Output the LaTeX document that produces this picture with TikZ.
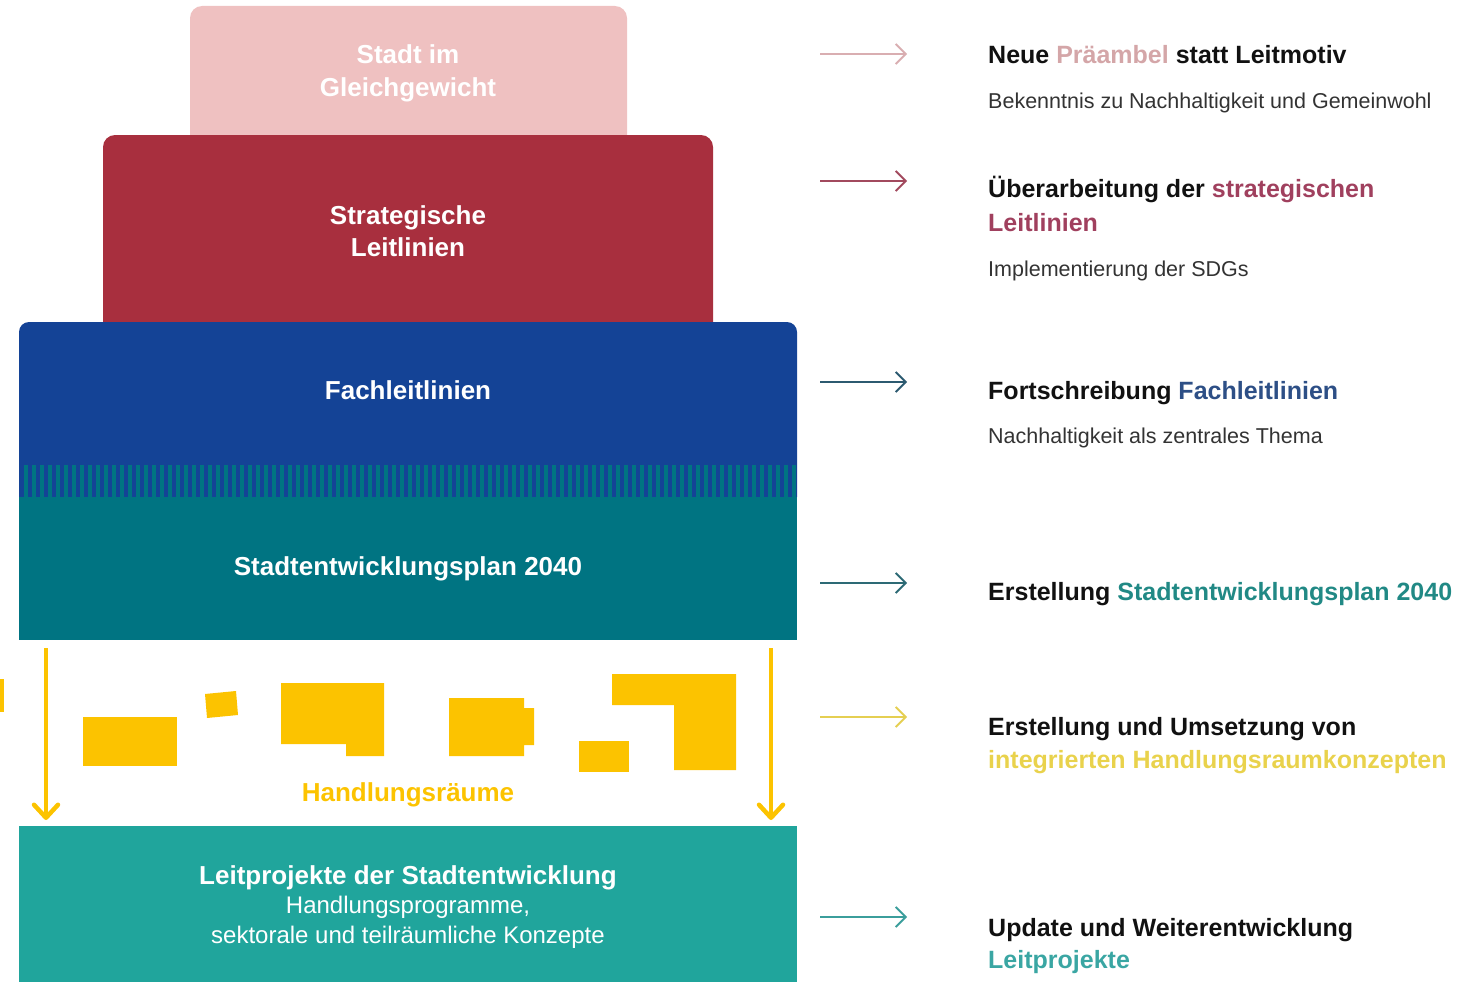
\documentclass[tikz,border=0pt]{standalone}
\usepackage{fontspec}
\setmainfont{Liberation Sans}
\usetikzlibrary{arrows.meta}
\definecolor{pinkbox}{HTML}{EFC1C1}
\definecolor{redbox}{HTML}{A82F3E}
\definecolor{bluebox}{HTML}{144396}
\definecolor{tealdark}{HTML}{007482}
\definecolor{yel}{HTML}{FCC300}
\definecolor{teallight}{HTML}{20A59C}
\definecolor{hpink}{HTML}{D4A6A8}
\definecolor{hred}{HTML}{A0405E}
\definecolor{hblue}{HTML}{2D4F86}
\definecolor{hteal}{HTML}{218985}
\definecolor{hyel}{HTML}{E9D24C}
\definecolor{hteal2}{HTML}{3AA6A3}
\definecolor{apink}{HTML}{D9AEB1}
\definecolor{ared}{HTML}{A24A5E}
\definecolor{ablue}{HTML}{2C5A70}
\definecolor{ateal}{HTML}{2D6A75}
\definecolor{ayel}{HTML}{E5CF52}
\definecolor{ateal2}{HTML}{3B9E9C}
\definecolor{headk}{HTML}{111111}
\definecolor{subk}{HTML}{333333}
\begin{document}
\begin{tikzpicture}[x=1pt,y=-1pt,
  boxlabel/.style={text=white, font=\bfseries\fontsize{26}{30}\selectfont, anchor=base, inner sep=0pt},
  boxsmall/.style={text=white, font=\fontsize{24}{28}\selectfont, anchor=base, inner sep=0pt},
  headline/.style={text=headk, font=\bfseries\fontsize{25}{30}\selectfont, anchor=base west, inner sep=0pt},
  subline/.style={text=subk, font=\fontsize{21.5}{26}\selectfont, anchor=base west, inner sep=0pt},
  rarrow/.style={line width=1.8pt, -{Straight Barb[length=10pt,width=20pt]}},
  yarrow/.style={yel, line width=4.5pt, -{Straight Barb[round,length=13pt,width=24pt]}},
  yshape/.style={fill=yel}
]
\useasboundingbox (0,0) rectangle (1465,982);

% --- stacked boxes ---
\fill[pinkbox, rounded corners=12pt] (190,6) rectangle (627,160);
\fill[redbox, rounded corners=12pt] (103,135) rectangle (713,345);
\fill[bluebox] (19,497) [rounded corners=10pt] -- (19,322) -- (797,322) [sharp corners] -- (797,497) -- cycle;
\foreach \i in {0,...,96} {
  \fill[tealdark] ({24+8*\i},465) rectangle ({28+8*\i},497);
}
\fill[tealdark] (19,497) rectangle (797,640);
\fill[teallight] (19,826) rectangle (797,982);

% --- box labels ---
\node[boxlabel] (pink1) at (408,64) {Stadt im};
\node[boxlabel] (pink2) at (408,96) {Gleichgewicht};
\node[boxlabel] (red1) at (408,224) {Strategische};
\node[boxlabel] (red2) at (408,256) {Leitlinien};
\node[boxlabel] (blue1) at (408,399) {Fachleitlinien};
\node[boxlabel] (teal1) at (408,575) {Stadtentwicklungsplan 2040};
\node[boxlabel, text=yel] (hr) at (408,801) {Handlungsräume};
\node[boxlabel] (lp1) at (408,884) {Leitprojekte der Stadtentwicklung};
\node[boxsmall] (lp2) at (408,913) {Handlungsprogramme,};
\node[boxsmall] (lp3) at (408,943) {sektorale und teilräumliche Konzepte};

% --- yellow areas ---
\fill[yshape] (0,679) rectangle (4,712);
\fill[yshape] (83,717) rectangle (177,766);
\fill[yshape] (205,694) -- (236,691) -- (238,715) -- (207,718) -- cycle;
\fill[yshape] (281,683) -- (384,683) -- (384,756) -- (346,756) -- (346,744) -- (281,744) -- cycle;
\fill[yshape] (449,698) -- (524,698) -- (524,708) -- (534,708) -- (534,745) -- (524,745) -- (524,756) -- (449,756) -- cycle;
\fill[yshape] (579,741) rectangle (629,772);
\fill[yshape] (612,674) -- (736,674) -- (736,770) -- (674,770) -- (674,705) -- (612,705) -- cycle;

% --- yellow arrows ---
\coordinate (ya1) at (46,648);
\coordinate (ya2) at (46,820);
\coordinate (yb1) at (771,648);
\coordinate (yb2) at (771,820);
\draw[yarrow] (ya1) -- (ya2);
\draw[yarrow] (yb1) -- (yb2);

% --- right arrows ---
\foreach \n/\y/\c in {1/54/apink, 2/181/ared, 3/382/ablue, 4/583/ateal, 5/717/ayel, 6/917/ateal2} {
  \coordinate (rs\n) at (820,\y);
  \coordinate (re\n) at (907,\y);
  \draw[rarrow, \c] (rs\n) -- (re\n);
}

% --- right texts ---
\node[headline] (t1) at (988,64) {Neue \textcolor{hpink}{Präambel} statt Leitmotiv};
\node[subline] (s1) at (988,108) {Bekenntnis zu Nachhaltigkeit und Gemeinwohl};
\node[headline] (t2a) at (988,197) {Überarbeitung der \textcolor{hred}{strategischen}};
\node[headline, text=hred] (t2b) at (988,231) {Leitlinien};
\node[subline] (s2) at (988,276) {Implementierung der SDGs};
\node[headline] (t3) at (988,399) {Fortschreibung \textcolor{hblue}{Fachleitlinien}};
\node[subline] (s3) at (988,443) {Nachhaltigkeit als zentrales Thema};
\node[headline] (t4) at (988,600) {Erstellung \textcolor{hteal}{Stadtentwicklungsplan 2040}};
\node[headline] (t5a) at (988,735) {Erstellung und Umsetzung von};
\node[headline, text=hyel] (t5b) at (988,768) {integrierten Handlungsraumkonzepten};
\node[headline] (t6a) at (988,936) {Update und Weiterentwicklung};
\node[headline, text=hteal2] (t6b) at (988,968) {Leitprojekte};
\end{tikzpicture}
\end{document}
